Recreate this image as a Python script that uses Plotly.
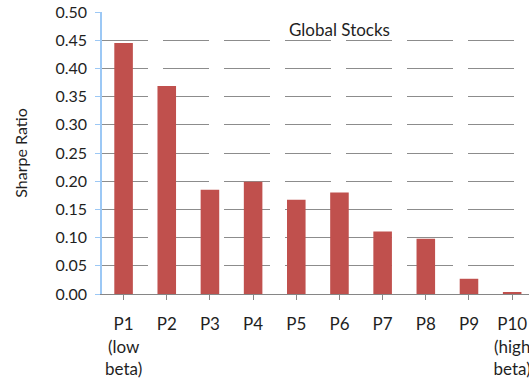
import plotly.graph_objects as go

# Sharpe ratio by beta-sorted portfolio, global stocks
portfolios = ["P1<br>(low<br>beta)", "P2", "P3", "P4", "P5", "P6", "P7", "P8", "P9", "P10<br>(high<br>beta)"]
sharpe = [0.445, 0.369, 0.185, 0.199, 0.167, 0.180, 0.111, 0.098, 0.027, 0.003]

y_ticks = [0.0, 0.05, 0.10, 0.15, 0.20, 0.25, 0.30, 0.35, 0.40, 0.45, 0.50]
y_ticktext = [f"{v:.2f}" for v in y_ticks]

FONT = "Lato"
TEXT = "#1f1f1f"

# plot area in pixels
W, H = 529, 385
ML, MR, MT, MB = 102, 0, 12, 91
plot_w = W - ML - MR
plot_h = H - MT - MB

fig = go.Figure(
    go.Bar(
        x=list(range(len(portfolios))),
        y=sharpe,
        width=0.43,
        marker=dict(color="#c0504d", line=dict(width=0)),
        hoverinfo="skip",
    )
)

fig.update_layout(
    width=W,
    height=H,
    margin=dict(l=ML, r=MR, t=MT, b=MB),
    paper_bgcolor="white",
    plot_bgcolor="white",
    showlegend=False,
    font=dict(family=FONT, size=16, color=TEXT),
    annotations=[
        dict(
            text="Global Stocks",
            x=(339 - ML) / plot_w,
            y=(H - MB - 29) / plot_h,
            xref="paper", yref="paper",
            showarrow=False,
            font=dict(family=FONT, size=17, color=TEXT),
            xanchor="center", yanchor="middle",
        )
    ],
)

fig.update_xaxes(
    range=[-0.5, 9.39],
    tickmode="array",
    tickvals=list(range(len(portfolios))),
    ticktext=portfolios,
    tickson="boundaries",
    ticks="outside",
    ticklen=5,
    tickcolor="#868686",
    ticklabelstandoff=10,
    ticklabeloverflow="allow",
    showline=True,
    linecolor="#868686",
    linewidth=1,
    showgrid=False,
    zeroline=False,
    tickfont=dict(family=FONT, size=17, color=TEXT),
    automargin=False,
)

fig.update_yaxes(
    range=[0, 0.5],
    tickmode="array",
    tickvals=y_ticks,
    ticktext=y_ticktext,
    ticks="outside",
    ticklen=5,
    tickcolor="#9cc8f5",
    ticklabelstandoff=5,
    showline=True,
    linecolor="#9cc8f5",
    linewidth=1.5,
    showgrid=True,
    gridcolor="#8c8c8c",
    gridwidth=1,
    griddash="46px,15px",
    zeroline=False,
    tickfont=dict(family=FONT, size=16, color=TEXT),
    title=dict(text="Sharpe Ratio", font=dict(family=FONT, size=16, color=TEXT), standoff=24),
    automargin=False,
)

fig.write_html("out.html")
